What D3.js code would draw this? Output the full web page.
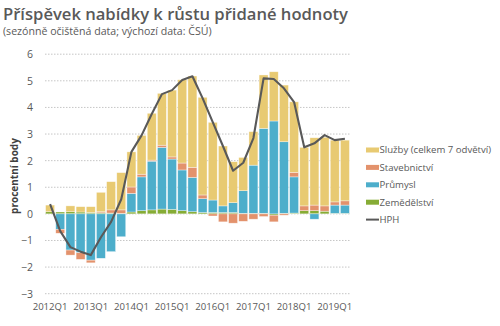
<!DOCTYPE html>
<html><head><meta charset="utf-8">
<script src="https://cdn.jsdelivr.net/npm/d3@7/dist/d3.min.js"></script>
<style>
html,body{margin:0;padding:0;background:#fff;}
svg{display:block;font-family:"Open Sans","Noto Sans",sans-serif;}
</style></head>
<body>
<svg id="chart" width="500" height="326"></svg>
<script>
const quarters = ["2012Q1","2012Q2","2012Q3","2012Q4","2013Q1","2013Q2","2013Q3","2013Q4",
"2014Q1","2014Q2","2014Q3","2014Q4","2015Q1","2015Q2","2015Q3","2015Q4",
"2016Q1","2016Q2","2016Q3","2016Q4","2017Q1","2017Q2","2017Q3","2017Q4",
"2018Q1","2018Q2","2018Q3","2018Q4","2019Q1","2019Q2"];
const tickLabels = ["2012Q1","2013Q1","2014Q1","2015Q1","2016Q1","2017Q1","2018Q1","2019Q1"];
const yTicks = [-3,-2,-1,0,1,2,3,4,5,6];

const zemedelstvi = [0.08,0.07,0.08,0.07,0.05,0.04,0.03,0.02,0.07,0.12,0.15,0.18,0.17,0.12,0.08,0.05,
0.05,0.05,0.05,0.02,0.02,0.02,-0.05,0.02,0.03,0.12,0.12,0.10,0.02,0.02];
const prumysl = [0,-0.58,-1.36,-1.46,-1.74,-1.67,-1.42,-0.86,0.70,1.27,1.83,2.32,1.89,1.53,1.29,0.52,
0.47,0.25,0.37,0.85,1.81,3.19,3.49,2.69,1.36,0,-0.20,0,0.31,0.31];
const stavebnictvi = [0,-0.15,-0.19,-0.25,-0.10,0.04,0.12,0.13,0.24,0.10,0.04,0.08,0.08,0.26,0.38,0.14,
-0.08,-0.30,-0.35,-0.28,-0.20,-0.10,-0.25,-0.05,0.17,0.18,0.21,0.20,0.12,0.16];
const sluzby = [0.25,0,0.22,0.20,0.22,0.73,1.06,1.40,1.32,1.46,1.76,1.95,2.51,3.13,3.43,3.67,
2.92,2.25,1.54,1.25,1.26,2.01,1.85,2.13,2.65,2.20,2.53,2.58,2.32,2.28];
const hph = [0.37,-0.65,-1.25,-1.42,-1.55,-0.88,-0.30,0.55,2.33,2.95,3.75,4.50,4.65,5.03,5.17,4.35,
3.45,2.55,1.62,1.92,2.85,5.09,5.07,4.72,4.20,2.50,2.65,2.96,2.77,2.82];

const seriesNames = ["Zemědělství","Průmysl","Stavebnictví","Služby (celkem 7 odvětví)"];
const seriesColors = ["#86AC35","#4DAECB","#E3926C","#E8CA72"];
const seriesData = [zemedelstvi, prumysl, stavebnictvi, sluzby];

const svg = d3.select("#chart");

const x = d3.scaleBand().domain(quarters).range([45,350]).paddingInner(0.12).paddingOuter(0.06);
const y = d3.scaleLinear().domain([-3,6]).range([293.7,54.2]);

// title
svg.append("text").attr("x",3).attr("y",19.5).attr("fill","#595959")
  .attr("font-size",16.6).attr("font-weight",600)
  .text("Příspěvek nabídky k růstu přidané hodnoty");
svg.append("text").attr("x",3).attr("y",35).attr("fill","#595959")
  .attr("font-size",10.6).text("(sezónně očištěná data; výchozí data: ČSÚ)");

// grid
svg.append("g").selectAll("line").data(yTicks).join("line")
  .attr("x1",45).attr("x2",350)
  .attr("y1",d=>y(d)).attr("y2",d=>y(d))
  .attr("stroke","#c6c6c6").attr("stroke-width",1)
  .attr("stroke-dasharray","1.5,1.5");

// y axis labels
const yAxis = d3.axisLeft(y).tickValues(yTicks).tickSize(0).tickPadding(0).tickFormat(d3.format("d"));
const yg = svg.append("g").attr("transform","translate(33,0)").call(yAxis);
yg.select(".domain").remove();
yg.selectAll("text").attr("fill","#595959").attr("font-size",10.5).attr("font-family","Open Sans, sans-serif");

// y title
svg.append("text").attr("transform","translate(18,176) rotate(-90)")
  .attr("text-anchor","middle").attr("fill","#404040").attr("font-size",10).attr("font-weight",700)
  .text("procentní body");

// stacked bars (Excel style: pos and neg stacked separately)
const stackData = quarters.map((q,i)=>{
  let pos=0, neg=0;
  return seriesData.map((s,k)=>{
    const v = s[i];
    let y0,y1;
    if(v>=0){y0=pos; y1=pos+v; pos=y1;} else {y0=neg; y1=neg+v; neg=y1;}
    return {q, k, y0, y1, v};
  });
});
const bars = svg.append("g");
seriesData.forEach((s,k)=>{
  bars.append("g").selectAll("rect").data(stackData.map(r=>r[k]).filter(d=>d.v!==0)).join("rect")
    .attr("x",d=>x(d.q)).attr("width",x.bandwidth())
    .attr("y",d=>y(Math.max(d.y0,d.y1)))
    .attr("height",d=>Math.abs(y(d.y0)-y(d.y1)))
    .attr("fill",seriesColors[k])
    .attr("stroke","#fff").attr("stroke-opacity",0.6).attr("stroke-width",0.6);
});

// HPH line
const line = d3.line().x((d,i)=>x(quarters[i])+x.bandwidth()/2).y(d=>y(d));
svg.append("path").datum(hph).attr("d",line).attr("fill","none")
  .attr("stroke","#595959").attr("stroke-width",2.1).attr("stroke-linejoin","round");

// x axis labels
const xAxis = d3.axisBottom(x).tickValues(tickLabels).tickSize(0).tickPadding(0);
const xg = svg.append("g").attr("transform","translate(0,303)").call(xAxis);
xg.select(".domain").remove();
xg.selectAll("text").attr("fill","#595959").attr("font-size",9.6).attr("font-family","Open Sans, sans-serif").attr("dy","0.75em");

// legend
const legendItems = [
  {name:seriesNames[3], color:seriesColors[3], type:"rect"},
  {name:seriesNames[2], color:seriesColors[2], type:"rect"},
  {name:seriesNames[1], color:seriesColors[1], type:"rect"},
  {name:seriesNames[0], color:seriesColors[0], type:"rect"},
  {name:"HPH", color:"#595959", type:"line"}
];
const lg = svg.append("g").selectAll("g").data(legendItems).join("g")
  .attr("transform",(d,i)=>`translate(366,${150+i*17.4})`);
lg.filter(d=>d.type==="rect").append("rect").attr("x",0).attr("y",-2.5).attr("width",13).attr("height",5).attr("fill",d=>d.color);
lg.filter(d=>d.type==="line").append("line").attr("x1",0).attr("x2",13).attr("y1",0).attr("y2",0).attr("stroke",d=>d.color).attr("stroke-width",2);
lg.append("text").attr("x",13.5).attr("y",0).attr("dy","0.35em").attr("fill","#595959").attr("font-size",9.6).text(d=>d.name);
</script>
</body></html>
